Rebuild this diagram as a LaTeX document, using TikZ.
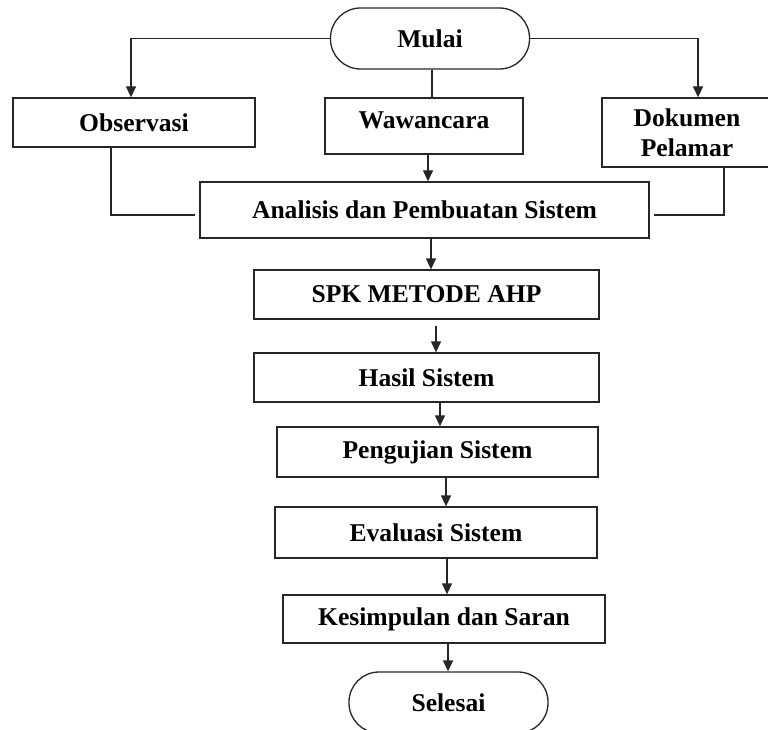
\documentclass[tikz,border=0pt]{standalone}
\usepackage{fontspec}
\setmainfont{Liberation Serif}
\usetikzlibrary{arrows.meta}
\begin{document}
\begin{tikzpicture}[x=1pt,y=-1pt,
  box/.style={draw=black!85, line width=1.3pt, fill=white, inner sep=0pt, align=center,
    font=\fontsize{25.6}{29.5}\selectfont\bfseries},
  term/.style={box, rounded corners=30pt},
  conn/.style={draw=black!85, line width=1.3pt},
  arr/.style={conn, -{Triangle[width=10pt,length=11pt]}}]
\useasboundingbox (0,0) rectangle (768,730);
\clip (0,0) rectangle (768,730);
\node[term, minimum width=199pt, minimum height=61pt] (mulai) at (430,38.5) {Mulai};
\node[box, minimum width=242pt, minimum height=49pt] (obs) at (134,122.5) {Observasi};
\node[box, minimum width=198pt, minimum height=56pt, text depth=11pt] (waw) at (424,126) {Wawancara};
\node[box, minimum width=170pt, minimum height=69pt] (dok) at (687,132.5) {Dokumen\\Pelamar};
\node[box, minimum width=449pt, minimum height=56pt] (ana) at (424.5,210) {Analisis dan Pembuatan Sistem};
\node[box, minimum width=345pt, minimum height=49pt] (spk) at (426.5,294.5) {SPK METODE AHP};
\node[box, minimum width=345pt, minimum height=49pt] (hasil) at (426.5,377.5) {Hasil Sistem};
\node[box, minimum width=321pt, minimum height=50pt] (uji) at (437.5,452) {Pengujian Sistem};
\node[box, minimum width=322pt, minimum height=51pt] (eval) at (436,532.5) {Evaluasi Sistem};
\node[box, minimum width=322pt, minimum height=48pt] (kes) at (444,619) {Kesimpulan dan Saran};
\node[term, minimum width=199pt, minimum height=61pt] (sel) at (448.5,702.5) {Selesai};
% branches from Mulai
\draw[arr] (mulai.west) -| (obs.north -| 131,0);
\draw[arr] (mulai.east) -| (obs.north -| 698,0);
\draw[conn] (mulai.south -| 432,0) -- (waw.north -| 432,0);
% into Analisis
\coordinate (oc) at (111,215);
\coordinate (ol) at (195,215);
\draw[conn] (obs.south -| oc) -- (oc) -- (ol);
\coordinate (dc) at (724,215);
\coordinate (dl) at (654,215);
\draw[conn] (dok.south -| dc) -- (dc) -- (dl);
\draw[arr] (waw.south -| 428,0) -- (ana.north -| 428,0);
% main chain
\draw[arr] (ana.south -| 431,0) -- (spk.north -| 431,0);
\coordinate (s1) at (436,326);
\draw[arr] (s1) -- (hasil.north -| s1);
\draw[arr] (hasil.south -| 440,0) -- (uji.north -| 440,0);
\draw[arr] (uji.south -| 446,0) -- (eval.north -| 446,0);
\draw[arr] (eval.south -| 447,0) -- (kes.north -| 447,0);
\draw[arr] (kes.south -| 448,0) -- (sel.north -| 448,0);
\end{tikzpicture}
\end{document}
